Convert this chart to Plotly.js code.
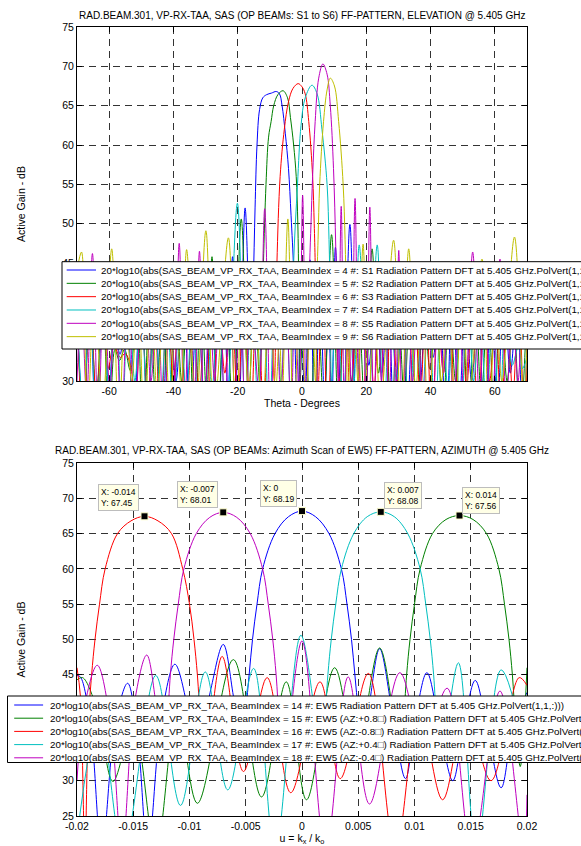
<!DOCTYPE html>
<html><head><meta charset="utf-8">
<script src="https://cdn.plot.ly/plotly-3.0.1.min.js"></script>
<style>html,body{margin:0;padding:0;background:#fff;overflow:hidden}</style>
</head><body><div id="chart" style="width:581px;height:846px"></div>
<script>
// ---------------- DATA: elevation cut (top) ----------------
const elevTickVals = [-60,-40,-20,0,20,40,60];
const elevTickText = ['-60','-40','-20','0','20','40','60'];
const gainTopTickVals = [30,35,40,45,50,55,60,65,70,75];
const gainTopTickText = ['30','35','40','45','50','55','60','65','70','75'];

const s1X = [-70,-68,-66,-64,-62,-60,-58.4,-56.6,-54.6,-52.4,-50.2,-48,-45.8,-43.6,-41.4,-39.2,-37,-34.8,-32.6,-30.4,-28.2,-26.2,-24.2,-23,-21.6,-19.7,-17.7,-16,-15.2,-14.6,-14,-13.2,-12.2,-11,-9.5,-8,-7,-6.2,-5.2,-4.2,-3.4,-2.6,-2,-1.4,-0.3,0.9,2.5,4,5.6,7,8.2,9.3,10.4,12.6,14.9,16.9,18.8,20.8,22.8,24.8,26.8,28.8,30.8,32.8,34.8,36.8,38.8,40.8,42.8,44.8,46.8,48.8,50.8,52.8,54.8,56.8,58.8,60.8,62.8,64.8,66.8,68.8,70];
const s1Y = [38,26,40,22,41,29,36,33.4,40,24,42,27,40,23,41,30,42,25,40,28,41,24,40,28,45.8,25,52,34,42,52,60,64.5,66,66.4,66.6,66.8,66.5,65,61.5,57,51,44,32,24,40,27,45.4,23,42,28,38,27,47,22,49.9,26,41,32,42,31,40,22,43,27,41,30,42,33,40,23,42,26,39,30,41,22,40,27,42,31,39,24,36];

const s2X = [-70,-68,-66,-64,-62,-60,-58.2,-56.8,-55.2,-53.4,-51.4,-49.4,-47.4,-45.4,-43.4,-41.4,-39.4,-37.4,-35.4,-33.4,-31.4,-29.7,-28,-26.2,-24,-21.4,-18.9,-16.6,-14.8,-13.2,-12.4,-12,-11.2,-10.4,-9.6,-8.8,-7.5,-5.9,-4.5,-3.6,-2.6,-1.8,-1.3,-1,-0.6,0.8,2.6,4.6,6.8,9.2,11.4,13.4,15.4,17.4,19.6,21.8,23.8,25.8,27.8,29.8,31.8,33.8,35.8,37.8,39.8,41.8,43.8,45.8,47.8,49.8,51.8,53.8,55.8,57.8,59.8,61.8,63.8,65.8,67.8,70];
const s2Y = [39,24,41,28,40,23,34,32.6,34,31.3,40,22,41,27,39,25,42,30,40,22,42,28,45.8,24,42,26,50.6,28,42,30,38,45,55,61,63,65,66.4,66.9,66,63.5,60,56,50,42,30,42,24,42,27,48.6,25,42,30,41,26,46.8,31,40,24,41,28,42,22,41,31.5,38,25,40,30,41,23,42,28,40,26,41,30,39,24,40];

const s3X = [-70,-68,-66,-64,-62,-60.3,-58.6,-56.5,-55,-53,-52,-50,-48,-46,-44,-42,-40,-38,-36,-34,-32,-30,-28,-26,-24,-22,-20,-18,-16,-14,-12,-10,-8.6,-8.2,-7.8,-6.8,-5.5,-4.2,-2.8,-1.2,0,1,2.1,3.3,3.8,4.1,4.5,4.9,6.4,8,9.8,11.6,13.4,15.2,17,18.8,20.6,22.4,24.2,26,27.8,29.6,31.4,33.2,35,36.8,38.6,40.4,42.2,44,45.8,47.6,49.4,51.2,53,54.8,56.6,58.4,60.2,62,63.8,65.6,67.4,69.2,70];
const s3Y = [40,22,41,28,38,31.6,34.5,33,33.5,31.2,24,40,26,41,23,40,30,42,25,39,28,41,22,40,31,41,27,42,24,43,27,42,30,36,45,56,62,65.5,67.2,67.8,67.4,66.5,63,56,50,45,35,28,42,24,43,30,40,26,41,23,42,29,40,25,41,30,42,24,40,28,41,22,39,31,41,26,42,29,40,23,41,30,38,25,40,28,41,24,32];

const s4X = [-70,-68,-66,-64,-62,-60,-58,-56,-54,-52,-50,-48,-46,-44,-42,-40,-38,-36,-34,-32,-30,-28,-26,-23.6,-20.1,-17.6,-15.6,-13.8,-12,-10.2,-8.4,-6.6,-5,-3.6,-3,-2.6,-1.4,-0.3,1,3.1,4.7,6.2,7.8,8.4,8.8,9.2,11,12.8,14.6,16.2,17.8,20.6,23.4,25.4,27.4,29.4,31.4,33.4,35.4,37.4,39.4,41.4,43.4,45.4,47.4,49.4,51.4,53.4,55.4,57.4,59.4,61.4,63.4,65.4,67.4,68.6,70];
const s4Y = [39,26,41,23,40,29,42,25,40,30,41,22,42,27,39,24,41,28,40,22,42,29,40,25,52.6,26,42,28,41,24,42,30,40,28,35,45,55,62.5,66,67.6,66.5,62,55,48,40,30,42,26,40,30,47.3,27,47.3,24,41,30,40,22,42,28,40,25,41,29,40,23,42,30,40,26,41,24,40,32,34.5,31.6,33];

const s5X = [-70,-68.6,-67,-65.2,-63.4,-61.6,-59.8,-58,-56.2,-54.2,-52,-49.2,-47,-45,-43,-41,-39.6,-38.2,-36.6,-35,-33.4,-31.9,-30.4,-28.8,-27.2,-25.6,-24,-22.4,-20.8,-19.2,-17.6,-16,-13.4,-11.6,-9.8,-8.2,-6.6,-5,-3.4,-2.2,-0.9,0.2,1.3,2,2.4,2.8,3.3,4.1,5.2,6.5,7.8,8.8,9.8,10.5,11,11.3,12.2,13.2,14.3,15.4,16.5,17.6,18.8,20,21.1,22.3,23.5,24.7,25.9,27,28.2,29.2,30.1,31.2,32.8,34.4,36,37.6,39.2,40.8,42.4,44,45.6,47.2,48.8,50.6,53.1,55.2,57,58.8,61.6,63.6,65.4,67.2,68.8,70];
const s5Y = [30,40,28,46.2,25,42,29,40,24,41,27,44.9,30,40,24,42,30,47.5,25,41,29,46.5,24,40,30,41,26,40,28,42,24,41,29,51.9,25,42,28,41,26,40,28,53.6,26,36,45,50,56,63,68.5,70.3,69,65,57,47,36,28,52.2,26,42,28,53.2,30,42,27,52.1,24,41,30,42,25,40,28,46.6,24,41,30,40,23,42,27,40,31,41,24,42,26,46.4,28,41,24,45.5,27,40,30,41,32];

const s6X = [-70,-68.6,-66.8,-64.6,-62,-59.2,-57,-55,-53,-51,-49,-47,-45,-43,-41,-39.4,-37.6,-35.9,-33,-29.9,-27.4,-22.9,-20.6,-18.6,-16.6,-14.6,-12.4,-10.2,-8.2,-7,-6.2,-4.4,-2.6,-0.6,1.2,2.8,4.2,4.6,5,5.5,6.7,7.8,8.8,10.1,11.4,12.8,13.4,13.8,14.2,16,17.4,19,20.6,22.4,24.4,28.5,30.8,33.2,35.4,37.4,39.4,41.4,43.4,45.4,47.6,49.8,52,56,58.2,60.2,62.2,66.1,69,70];
const s6Y = [44,46.4,25,41,27,46.8,24,40,30,41,23,42,28,40,25,41,29,46.7,26,49.1,26,48.2,24,41,29,42,25,41,29,36,27,50.6,24,42,28,41,30,42,48,55,63,67,68.5,67.5,63,55,48,40,28,42,30,47.4,25,41,27,47.9,24,46.8,29,41,23,40,30,41,25,42,28,45.5,24,40,30,48.3,27,35];

const elevNames = [
 '20*log10(abs(SAS_BEAM_VP_RX_TAA, BeamIndex = 4 #: S1 Radiation Pattern DFT at 5.405 GHz.PolVert(1,1,:)))',
 '20*log10(abs(SAS_BEAM_VP_RX_TAA, BeamIndex = 5 #: S2 Radiation Pattern DFT at 5.405 GHz.PolVert(1,1,:)))',
 '20*log10(abs(SAS_BEAM_VP_RX_TAA, BeamIndex = 6 #: S3 Radiation Pattern DFT at 5.405 GHz.PolVert(1,1,:)))',
 '20*log10(abs(SAS_BEAM_VP_RX_TAA, BeamIndex = 7 #: S4 Radiation Pattern DFT at 5.405 GHz.PolVert(1,1,:)))',
 '20*log10(abs(SAS_BEAM_VP_RX_TAA, BeamIndex = 8 #: S5 Radiation Pattern DFT at 5.405 GHz.PolVert(1,1,:)))',
 '20*log10(abs(SAS_BEAM_VP_RX_TAA, BeamIndex = 9 #: S6 Radiation Pattern DFT at 5.405 GHz.PolVert(1,1,:)))'
];

// ---------------- DATA: azimuth cut (bottom) ----------------
const azTickVals = [-0.02,-0.015,-0.01,-0.005,0,0.005,0.01,0.015,0.02];
const azTickText = ['-0.02','-0.015','-0.01','-0.005','0','0.005','0.01','0.015','0.02'];
const gainBotTickVals = [25,30,45,50,55,60,65,70,75];
const gainBotTickText = ['25','30','45','50','55','60','65','70','75'];
const gainBotGridVals = [25,30,35,40,45,50,55,60,65,70,75];

const b14X = [-0.0200,-0.0197,-0.0188,-0.0178,-0.0166,-0.0155,-0.0146,-0.0137,-0.0125,-0.0113,-0.0101,-0.0092,-0.0081,-0.0070,-0.0061,-0.0054,-0.0050,-0.0047,-0.0044,-0.0040,-0.0035,-0.0024,-0.0012,0,0.0012,0.0024,0.0035,0.0040,0.0044,0.0047,0.0050,0.0054,0.0060,0.0069,0.0080,0.0092,0.0101,0.0111,0.0122,0.0134,0.0144,0.0154,0.0165,0.0177,0.0188,0.0200];
const b14Y = [44.9,44.7,38,20,38,43.8,36,20,39,46.5,40,34,43,49.3,42,35,40,45,50,55,60,65,67.4,68.19,67.4,65,60,55,50,45,40,35,41,48.7,40,30.3,39,45.3,38,30,38,44.2,37,29,38,42.5];

const b15X = [-0.0200,-0.0195,-0.0182,-0.0168,-0.0150,-0.0130,-0.0111,-0.0093,-0.0061,-0.0036,-0.0014,0.0004,0.0029,0.0048,0.0069,0.0087,0.0090,0.0093,0.0096,0.0100,0.0105,0.0116,0.0128,0.0140,0.0152,0.0164,0.0175,0.0180,0.0184,0.0187,0.0190,0.0194,0.0200];
const b15Y = [44.3,44.6,40,29.9,38,20,40,26.8,47.15,27.7,44.0,27.3,46.0,34,48.8,34,38,45,50,55,60,65,67.0,67.56,67.0,65,60,55,50,45,38,32,46];

const b16X = [-0.0200,-0.0197,-0.0193,-0.0190,-0.0187,-0.0184,-0.0180,-0.0175,-0.0164,-0.0152,-0.0140,-0.0128,-0.0116,-0.0106,-0.0100,-0.0096,-0.0093,-0.0090,-0.0086,-0.0071,-0.0052,-0.0031,-0.0010,0.0016,0.0034,0.0059,0.0083,0.0104,0.0125,0.0146,0.0168,0.0193,0.0200];
const b16Y = [46,42,20,38,45,50,55,60,65,66.8,67.45,66.8,65,60,55,50,45,38,33,47.6,31.3,44.6,28.3,44.0,30.3,45.2,20,40,27.3,40,30,44.6,43.5];

const b17X = [-0.0200,-0.0180,-0.0159,-0.0130,-0.0108,-0.0086,-0.0066,-0.0043,-0.0024,-0.0001,0.0017,0.0020,0.0023,0.0026,0.0030,0.0035,0.0046,0.0058,0.0070,0.0082,0.0094,0.0105,0.0110,0.0114,0.0117,0.0120,0.0124,0.0139,0.0155,0.0177,0.0200];
const b17Y = [22,39,20,44.9,26.5,45.4,28.7,45.9,20,50.6,34,38,45,50,55,60,65,67.4,68.08,67.4,65,60,55,50,45,38,34,46.7,20,45.7,33];

const b18X = [-0.0200,-0.0194,-0.0182,-0.0170,-0.0160,-0.0149,-0.0138,-0.0129,-0.0123,-0.0120,-0.0117,-0.0114,-0.0110,-0.0105,-0.0094,-0.0082,-0.0070,-0.0058,-0.0046,-0.0035,-0.0030,-0.0026,-0.0023,-0.0020,-0.0016,0.0000,0.0021,0.0041,0.0060,0.0087,0.0108,0.0129,0.0151,0.0176,0.0197,0.0200];
const b18Y = [30,40,46.35,38,20,41,47.8,40,34,38,45,50,55,60,65,67.3,68.01,67.3,65,60,55,50,45,38,33,49.8,20,44.7,26.7,45.3,35,43.1,20,42.7,20,28];

const azNames = [
 '20*log10(abs(SAS_BEAM_VP_RX_TAA, BeamIndex = 14 #: EW5 Radiation Pattern DFT at 5.405 GHz.PolVert(1,1,:)))',
 '20*log10(abs(SAS_BEAM_VP_RX_TAA, BeamIndex = 15 #: EW5 (AZ:+0.8\u25A1) Radiation Pattern DFT at 5.405 GHz.PolVert(1,1,:)))',
 '20*log10(abs(SAS_BEAM_VP_RX_TAA, BeamIndex = 16 #: EW5 (AZ:-0.8\u25A1) Radiation Pattern DFT at 5.405 GHz.PolVert(1,1,:)))',
 '20*log10(abs(SAS_BEAM_VP_RX_TAA, BeamIndex = 17 #: EW5 (AZ:+0.4\u25A1) Radiation Pattern DFT at 5.405 GHz.PolVert(1,1,:)))',
 '20*log10(abs(SAS_BEAM_VP_RX_TAA, BeamIndex = 18 #: EW5 (AZ:-0.4\u25A1) Radiation Pattern DFT at 5.405 GHz.PolVert(1,1,:)))'
];

// data tips (peak markers)
const tipX = [-0.014, -0.007, 0, 0.007, 0.014];
const tipY = [67.45, 68.01, 68.19, 68.08, 67.56];

const topTitle = 'RAD.BEAM.301, VP-RX-TAA, SAS (OP BEAMs: S1 to S6) FF-PATTERN, ELEVATION @ 5.405 GHz';
const botTitle = 'RAD.BEAM.301, VP-RX-TAA, SAS (OP BEAMs: Azimuth Scan of EW5) FF-PATTERN, AZIMUTH @ 5.405 GHz';

// ---------------- STYLE / LAYOUT ----------------
const FONT = 'Liberation Sans, Arial, Helvetica, sans-serif';
const colTop = ['#0000ff','#008000','#ff0000','#00bfbf','#bf00bf','#bfbf00'];
const colBot = ['#0000ff','#008000','#ff0000','#00bfbf','#bf00bf'];
const W=581, H=846, L=77, R=527, T=27, B=816;
const pX = p => (p - L) / (R - L);
const pY = p => (B - p) / (B - T);

const topSeries = [[s1X,s1Y],[s2X,s2Y],[s3X,s3Y],[s4X,s4Y],[s5X,s5Y],[s6X,s6Y]];
const botSeries = [[b14X,b14Y],[b15X,b15Y],[b16X,b16Y],[b17X,b17Y],[b18X,b18Y]];

const traces = [];
topSeries.forEach((s,i) => traces.push({
  type:'scatter', mode:'lines', x:s[0], y:s[1], name:elevNames[i],
  xaxis:'x', yaxis:'y', showlegend:false, hoverinfo:'skip',
  line:{color:colTop[i], width:1, shape:'spline', smoothing:1}
}));
botSeries.forEach((s,i) => traces.push({
  type:'scatter', mode:'lines', x:s[0], y:s[1], name:azNames[i],
  xaxis:'x2', yaxis:'y2', showlegend:false, hoverinfo:'skip',
  line:{color:colBot[i], width:1, shape:'spline', smoothing:1}
}));
traces.push({
  type:'scatter', mode:'markers', x:tipX, y:tipY, xaxis:'x2', yaxis:'y2',
  showlegend:false, hoverinfo:'skip',
  marker:{symbol:'square', size:7, color:'#000', line:{color:'#ffffcc', width:1}}
});

const axBase = {
  showline:true, linecolor:'#000', linewidth:1, mirror:'ticks',
  ticks:'inside', ticklen:5, tickwidth:1, tickcolor:'#000',
  showgrid:true, gridcolor:'#333', gridwidth:1, griddash:'7px,5px',
  zeroline:false, tickfont:{family:FONT, size:10.5, color:'#000'},
  tickmode:'array', automargin:false, fixedrange:true
};
const titleFont = {family:FONT, size:10, color:'#000'};
const axTitleFont = {family:FONT, size:10.5, color:'#000'};

const shapes = [];
const annotations = [];

// hidden-label grid lines of the lower panel (35, 40 are covered by the legend box)
gainBotGridVals.filter(v => gainBotTickVals.indexOf(v) < 0).forEach(v => shapes.push({
  type:'line', xref:'paper', yref:'y2', x0:0, x1:1, y0:v, y1:v, layer:'below',
  line:{color:'#333', width:1, dash:'7px,5px'}
}));

// titles
annotations.push({xref:'paper', yref:'paper', x:pX(302), y:pY(16), xanchor:'center', yanchor:'middle',
  text:topTitle, showarrow:false, font:titleFont});
annotations.push({xref:'paper', yref:'paper', x:pX(302), y:pY(450), xanchor:'center', yanchor:'middle',
  text:botTitle, showarrow:false, font:titleFont});

// legend boxes (drawn as shapes + text)
function addLegend(names, colors, box, row0, rowStep, line0, line1, text0) {
  shapes.push({type:'rect', xref:'paper', yref:'paper', layer:'above',
    x0:pX(box[0]), x1:pX(box[1]), y0:pY(box[3]), y1:pY(box[2]),
    fillcolor:'#fff', line:{color:'#000', width:1}});
  names.forEach((n,i) => {
    const yy = row0 + rowStep*i;
    shapes.push({type:'line', xref:'paper', yref:'paper', layer:'above',
      x0:pX(line0), x1:pX(line1), y0:pY(yy), y1:pY(yy), line:{color:colors[i], width:1}});
    annotations.push({xref:'paper', yref:'paper', x:pX(text0), y:pY(yy), xanchor:'left', yanchor:'middle',
      text:n, showarrow:false, font:{family:FONT, size:9.8, color:'#000'}});
  });
}
addLegend(elevNames, colTop, [62, 760, 261.7, 349], 270, 13.33, 66.7, 96, 99.3);
addLegend(azNames, colBot, [7.5, 760, 696, 762.5], 705, 13.2, 14.2, 43.1, 47.6);

// data tip boxes
const tipShiftX = [-6,-5,-5,3,2];
const tipShiftY = [5,4,4,3,2];
tipX.forEach((x,i) => annotations.push({
  xref:'x2', yref:'y2', x:x, y:tipY[i], showarrow:false,
  xanchor: i < 3 ? 'right' : 'left', yanchor:'bottom',
  xshift: tipShiftX[i], yshift: tipShiftY[i], align:'left',
  text:'X: ' + String(x) + '<br>Y: ' + String(tipY[i]),
  font:{family:FONT, size:8.5, color:'#000'},
  bgcolor:'#ffffe6', bordercolor:'#bdbdbd', borderwidth:1, borderpad:2
}));

const layout = {
  width:W, height:H,
  margin:{l:L, r:W-R, t:T, b:H-B, autoexpand:false, pad:0},
  paper_bgcolor:'#fff', plot_bgcolor:'#fff',
  font:{family:FONT, size:10.5, color:'#000'},
  showlegend:false,
  xaxis:Object.assign({}, axBase, {domain:[0,1], anchor:'y', range:[-70,70],
    tickvals:elevTickVals, ticktext:elevTickText,
    title:{text:'Theta - Degrees', font:axTitleFont, standoff:4}}),
  yaxis:Object.assign({}, axBase, {domain:[pY(381),1], anchor:'x', range:[30,75],
    tickvals:gainTopTickVals, ticktext:gainTopTickText,
    title:{text:'Active Gain - dB', font:axTitleFont, standoff:34}}),
  xaxis2:Object.assign({}, axBase, {domain:[0,1], anchor:'y2', range:[-0.02,0.02],
    tickvals:azTickVals, ticktext:azTickText,
    title:{text:'u = k<sub>x</sub> / k<sub>o</sub>', font:axTitleFont, standoff:4}}),
  yaxis2:Object.assign({}, axBase, {domain:[0,pY(463)], anchor:'x2', range:[25,75],
    tickvals:gainBotTickVals, ticktext:gainBotTickText,
    title:{text:'Active Gain - dB', font:axTitleFont, standoff:34}}),
  shapes:shapes, annotations:annotations
};

Plotly.newPlot('chart', traces, layout, {displayModeBar:false, staticPlot:true});
</script></body></html>
